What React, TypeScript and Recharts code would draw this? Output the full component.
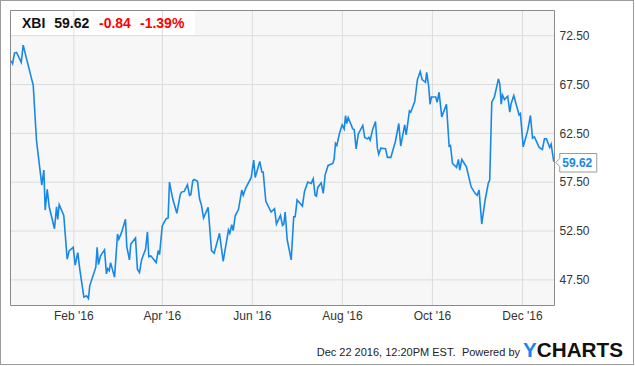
import React from "react";
import {
  LineChart,
  Line,
  XAxis,
  YAxis,
  CartesianGrid,
  ReferenceArea,
  ReferenceDot,
} from "recharts";

// Day offsets from Jan 1, 2016 (negative = Dec 2015)
const days = [
  -11.4, -10.5, -9.2, -7.8, -4.6, -3.3, -1.9, 3.5, 5.7, 9.3,
  10.7, 11.6, 13.0, 14.3, 17.9, 19.3, 20.1, 21.1, 24.2, 26.5,
  27.9, 30.6, 31.9, 33.7, 35.1, 37.8, 39.6, 40.9, 41.8, 45.9,
  46.8, 47.7, 49.1, 51.8, 53.1, 54.0, 55.0, 55.9, 58.6, 60.6,
  61.5, 63.3, 66.0, 66.9, 68.7, 69.6, 72.8, 74.1, 75.5, 76.9,
  79.6, 80.9, 81.8, 83.2, 86.8, 88.2, 89.1, 90.9, 93.6, 94.9,
  95.8, 98.1, 100.8, 103.1, 104.0, 105.8, 108.0, 109.4, 110.3, 111.6,
  112.6, 114.8, 116.2, 117.5, 118.9, 122.0, 124.3, 126.1, 129.7, 132.2,
  135.8, 136.7, 138.0, 139.0, 140.3, 142.6, 144.8, 145.8, 147.5, 151.2,
  152.9, 153.9, 157.0, 158.4, 159.3, 161.1, 164.7, 167.0, 168.3, 171.0,
  172.4, 173.3, 174.2, 175.6, 178.3, 180.0, 181.0, 182.3, 185.9, 187.3,
  189.5, 191.8, 193.2, 194.5, 195.4, 196.3, 198.6, 200.0, 201.3, 203.3,
  206.5, 207.4, 208.3, 209.2, 211.0, 212.8, 214.2, 215.1, 215.9, 216.9,
  220.0, 221.0, 222.3, 223.7, 226.8, 228.1, 230.0, 230.9, 231.8, 233.6,
  235.4, 236.7, 237.6, 239.0, 242.2, 243.5, 245.8, 248.9, 251.2, 252.5,
  255.2, 256.2, 258.4, 259.3, 262.0, 263.8, 265.7, 267.0, 269.3, 270.1,
  271.5, 272.4, 273.3, 276.2, 277.2, 278.5, 280.3, 283.5, 285.3, 286.2,
  287.6, 290.3, 291.6, 292.5, 293.9, 297.0, 300.2, 302.9, 304.3, 305.6,
  307.4, 309.7, 311.9, 312.8, 314.2, 316.0, 318.7, 319.6, 320.6, 321.4,
  322.8, 325.0, 326.4, 327.3, 329.1, 332.7, 333.6, 335.5, 338.6, 340.4,
  341.8, 343.1, 346.3, 348.5, 349.9, 351.2, 353.5, 354.4, 356.2,
];

const prices = [
  69.91, 69.64, 70.72, 70.79, 69.77, 71.54, 70.66, 67.42, 61.8, 57.21,
  58.74, 54.65, 56.77, 54.99, 52.74, 54.99, 53.7, 55.2, 54.11, 49.62,
  50.5, 50.84, 49.01, 50.29, 48.53, 45.74, 45.87, 45.59, 46.89, 48.8,
  50.84, 49.07, 49.96, 50.57, 48.12, 48.66, 48.45, 49.27, 47.78, 52.2,
  51.66, 52.34, 53.7, 50.91, 49.55, 51.18, 51.79, 48.6, 48.25, 49.55,
  50.64, 52.41, 49.88, 49.96, 49.27, 50.5, 50.09, 53.02, 53.77, 53.84,
  57.52, 55.75, 54.32, 56.22, 56.49, 56.56, 57.24, 56.16, 56.22, 57.65,
  57.79, 57.59, 55.81, 55.13, 53.84, 54.93, 50.5, 50.23, 52.27, 49.41,
  52.61, 52.27, 53.15, 52.54, 54.04, 54.73, 56.7, 56.16, 56.9, 57.99,
  59.76, 57.99, 59.63, 58.54, 58.54, 55.54, 54.45, 54.79, 53.22, 54.11,
  53.09, 53.22, 54.45, 51.59, 49.55, 53.97, 53.97, 55.68, 55.06, 56.56,
  57.52, 57.38, 57.85, 56.16, 56.08, 56.97, 57.44, 56.36, 58.26, 59.22,
  59.42, 59.9, 61.47, 61.26, 62.49, 63.37, 62.96, 64.33, 63.51, 64.12,
  62.96, 62.9, 60.92, 62.42, 63.31, 62.08, 61.94, 62.08, 61.8, 62.96,
  63.72, 60.99, 60.37, 60.99, 60.92, 60.04, 60.04, 61.67, 63.51, 61.19,
  63.37, 62.35, 64.8, 64.67, 65.76, 68.01, 68.82, 68.01, 67.73, 68.75,
  67.25, 65.48, 66.23, 66.23, 65.69, 66.71, 64.19, 65.48, 61.19, 61.26,
  59.42, 59.02, 59.83, 58.74, 59.83, 59.08, 57.03, 56.36, 56.16, 56.7,
  53.22, 55.68, 57.44, 57.72, 65.69, 66.23, 68.07, 67.6, 65.48, 66.43,
  65.96, 66.3, 64.67, 65.55, 66.37, 64.39, 64.53, 61.12, 62.83, 64.33,
  62.01, 62.14, 61.06, 60.86, 61.94, 61.94, 61.06, 61.4, 59.62,
];

const xTicks = [31, 91, 152, 213, 274, 335];
const xTickLabels = ["Feb '16", "Apr '16", "Jun '16", "Aug '16", "Oct '16", "Dec '16"];
const yTicks = [47.5, 52.5, 57.5, 62.5, 67.5, 72.5];

const xDomain: [number, number] = [-11.9, 356.7];
const yDomain: [number, number] = [44.88, 75.08];

const ticker = "XBI";
const lastPrice = "59.62";
const change = "-0.84";
const changePct = "-1.39%";
const footerStamp = "Dec 22 2016, 12:20PM EST.";
const footerPowered = "Powered by";

const data = days.map((d, i) => ({ day: d, price: prices[i] }));
const last = data[data.length - 1];

const BLUE = "#1888e8";
const FONT = "Arial, 'Liberation Sans', Helvetica, sans-serif";

const PriceTag = (props: any) => {
  const { cx, cy } = props;
  if (cx == null || cy == null) return null;
  const c = cy + 1;
  const path = `M${cx + 2},${c} L${cx + 6},${c - 4} L${cx + 6},${c - 9} L${cx + 43},${c - 9} L${cx + 43},${c + 9.5} L${cx + 6},${c + 9.5} L${cx + 6},${c + 4} Z`;
  return (
    <g>
      <path d={path} fill="#fff" stroke="#9a9a9a" strokeWidth={1} />
      <text
        x={cx + 8.5}
        y={c}
        dy="0.36em"
        fill={BLUE}
        fontSize={12}
        fontWeight="bold"
        fontFamily={FONT}
      >
        {lastPrice}
      </text>
    </g>
  );
};

export default function App() {
  return (
    <div style={{ position: "relative", width: 635, height: 366, fontFamily: FONT, background: "#fff" }}>
      <style>{`body{margin:0;}`}</style>
      <div
        style={{
          position: "absolute",
          left: 0,
          top: 0,
          width: 634,
          height: 365,
          border: "1px solid #9c9c9c",
          boxSizing: "border-box",
        }}
      />
      <div style={{ position: "absolute", left: 11, top: 11, width: 543, height: 294, background: "#f7f7f7" }} />
      <div style={{ position: "absolute", left: 11, top: 11, width: 184, height: 24, background: "#ffffff" }} />
      <div style={{ position: "absolute", left: 0, top: 0 }}>
        <LineChart
          width={635}
          height={366}
          data={data}
          margin={{ top: 10.5, right: 20.5, bottom: 30.5, left: 10.5 }}
        >
          <CartesianGrid stroke="#dcdcdc" strokeWidth={1} />
          <XAxis
            type="number"
            dataKey="day"
            domain={xDomain}
            ticks={xTicks}
            interval={0}
            allowDataOverflow
            tickFormatter={(v: number) => xTickLabels[xTicks.indexOf(v)] ?? ""}
            axisLine={false}
            tickLine={false}
            tickSize={6}
            tickMargin={0}
            height={30}
            tick={{ fill: "#333", fontSize: 12, fontFamily: FONT }}
          />
          <YAxis
            orientation="right"
            domain={yDomain}
            ticks={yTicks}
            interval={0}
            allowDataOverflow
            tickFormatter={(v: number) => v.toFixed(2)}
            axisLine={false}
            tickLine={false}
            tickSize={3}
            tickMargin={2}
            width={60}
            tick={{ fill: "#333", fontSize: 12, fontFamily: FONT }}
          />
          <ReferenceArea
            x1={xDomain[0]}
            x2={xDomain[1]}
            y1={yDomain[0]}
            y2={yDomain[1]}
            fill="none"
            stroke="#8a8a8a"
            strokeWidth={1}
            ifOverflow="visible"
          />
          <Line
            type="linear"
            dataKey="price"
            stroke={BLUE}
            strokeWidth={1.6}
            dot={false}
            activeDot={false}
            isAnimationActive={false}
          />
          <ReferenceDot
            x={last.day}
            y={last.price}
            r={0}
            ifOverflow="visible"
            shape={(p: any) => <PriceTag {...p} />}
          />
        </LineChart>
      </div>
      <svg
        width={635}
        height={366}
        style={{ position: "absolute", left: 0, top: 0, pointerEvents: "none" }}
      >
        <g fontFamily={FONT} fontWeight="bold" fontSize={14}>
          <text x={22} y={28.3} fill="#111">{ticker}</text>
          <text x={54.3} y={28.3} fill="#111">{lastPrice}</text>
          <text x={99} y={28.3} fill="#f00">{change}</text>
          <text x={140} y={28.3} fill="#f00">{changePct}</text>
        </g>
        <text x={455.5} y={356} textAnchor="end" fontFamily={FONT} fontSize={11} fill="#222">
          {footerStamp}
        </text>
        <text x={520} y={356} textAnchor="end" fontFamily={FONT} fontSize={11} fill="#222">
          {footerPowered}
        </text>
        <text
          x={523}
          y={356.5}
          fontFamily={FONT}
          fontWeight="bold"
          fontSize={19.5}
          textLength={100}
          lengthAdjust="spacingAndGlyphs"
        >
          <tspan fill={BLUE}>Y</tspan>
          <tspan fill="#111">CHARTS</tspan>
        </text>
      </svg>
    </div>
  );
}
